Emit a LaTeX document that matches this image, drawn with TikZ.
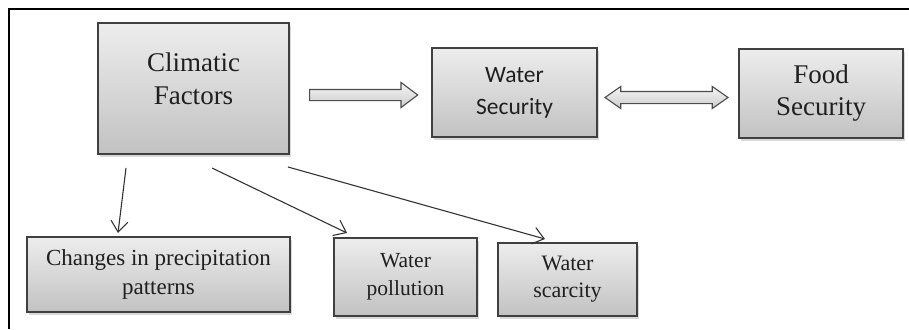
\documentclass[tikz,border=0pt]{standalone}
\usepackage{fontspec}
\setmainfont{Liberation Serif}
\newfontfamily\timesfont{Liberation Serif}
\newfontfamily\calfont{Carlito}
\usepackage{tikz}
\usetikzlibrary{shapes.arrows,shadows,arrows.meta}
\usepackage{xcolor}

\tikzset{
  factorbox/.style={draw=black!75,line width=1.1pt,top color=gray!14,bottom color=gray!48,
    drop shadow={opacity=0.3,shadow xshift=2pt,shadow yshift=-3pt},
    align=center,inner sep=2pt,text=black!88},
  thinarrow/.style={draw=black!80,line width=1.1pt,-{Straight Barb[length=11pt,width=17pt]}},
  blockarrow/.style={draw=black!70,line width=1.1pt,top color=gray!8,bottom color=gray!40}
}

\begin{document}
\begin{tikzpicture}[x=1pt,y=-1pt]
			\useasboundingbox (0,0) rectangle (909,329);
			\draw[line width=1.5pt] (9,329) -- (9,9) -- (909,9);
			\node[factorbox,minimum width=191pt,minimum height=131pt,
				font=\timesfont\fontsize{27}{33}\selectfont] (clim) at (193.5,88.5) {Climatic\\Factors\\[-14pt]};
			\node[factorbox,minimum width=165pt,minimum height=89pt,
				font=\calfont\fontsize{23.5}{32}\selectfont] (wsec) at (514.5,92.5) {Water\\Security};
			\node[factorbox,minimum width=164pt,minimum height=89pt,
				font=\timesfont\fontsize{27}{32}\selectfont] (fsec) at (821,93.5) {Food\\Security};
			\node[factorbox,minimum width=263pt,minimum height=75pt,
				font=\timesfont\fontsize{23}{29}\selectfont] (chg) at (158.5,274.5) {Changes in precipitation\\patterns};
			\node[factorbox,minimum width=143pt,minimum height=78pt,
				font=\timesfont\fontsize{21.5}{28}\selectfont] (poll) at (405.5,277) {Water\\pollution};
			\node[factorbox,minimum width=139pt,minimum height=73pt,
				font=\timesfont\fontsize{22}{27}\selectfont] (scar) at (567.5,279.5) {Water\\scarcity};
			% hollow arrows between the top boxes
			\node[blockarrow,single arrow,minimum height=108pt,minimum width=24pt,inner sep=5pt,
				single arrow head extend=7pt,single arrow tip angle=74] (toW) at (360,95) {};
			\node[blockarrow,double arrow,minimum height=123pt,minimum width=21pt,inner sep=5.5pt,
				double arrow head extend=5pt,double arrow tip angle=70] (WtoF) at (666.5,97.5) {};
			% thin arrows to the effects
			\coordinate (s1) at (126,168);
			\coordinate (s2) at (212,168);
			\coordinate (s3) at (288,167);
			\coordinate (e1) at (118,233);
			\coordinate (e2) at (347,233);
			\coordinate (e3) at (545,239);
			\draw[thinarrow] (s1) -- (e1);
			\draw[thinarrow] (s2) -- (e2);
			\draw[thinarrow] (s3) -- (e3);
		\end{tikzpicture}
\end{document}
